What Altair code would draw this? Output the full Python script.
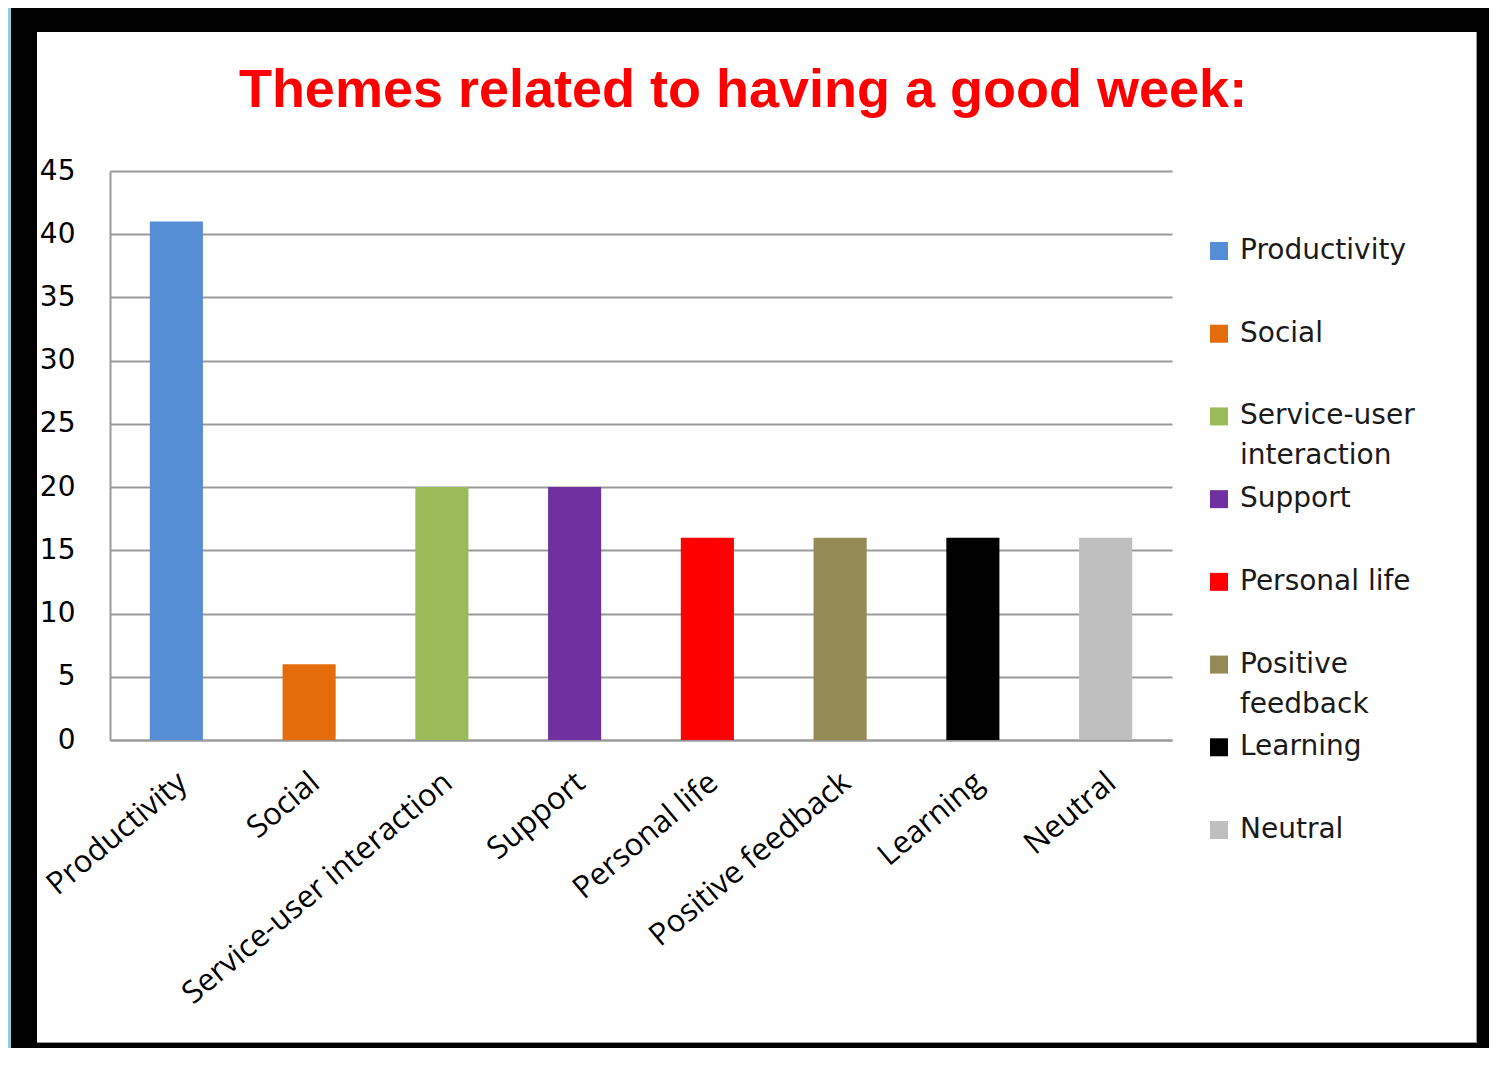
import altair as alt
import pandas as pd

# ---- data ----
categories = ["Productivity", "Social", "Service-user interaction", "Support",
              "Personal life", "Positive feedback", "Learning", "Neutral"]
values = [41, 6, 20, 20, 16, 16, 16, 16]
legend_labels = ["Productivity", "Social", "Service-user\ninteraction", "Support",
                 "Personal life", "Positive\nfeedback", "Learning", "Neutral"]
colors = ["#558ED5", "#E46C0A", "#9BBB59", "#7030A0",
          "#FF0000", "#948A54", "#000000", "#BFBFBF"]
y_ticks = [0, 5, 10, 15, 20, 25, 30, 35, 40, 45]
title_text = "Themes related to having a good week:"

df = pd.DataFrame({"cat": categories, "val": values, "lab": legend_labels})

PLOT_W, PLOT_H = 1062, 569
color_scale = alt.Scale(domain=categories, range=colors)

bars = alt.Chart(df).mark_bar().encode(
    x=alt.X("cat:N", sort=categories, title=None,
            scale=alt.Scale(paddingInner=0.6, paddingOuter=0.3),
            axis=alt.Axis(labelAngle=320, labelAlign="right", labelBaseline="top",
                          labelPadding=27, labelOffset=-3, ticks=False,
                          labelFont="Open Sans", labelFontSize=31, labelColor="#000000",
                          domainColor="#9a9a9a", domainWidth=2, grid=False,
                          labelLimit=600)),
    y=alt.Y("val:Q", title=None,
            scale=alt.Scale(domain=[0, 45], nice=False),
            axis=alt.Axis(values=y_ticks, ticks=False, tickSize=0, labelPadding=35,
                          labelFont="DejaVu Sans", labelFontSize=28, labelColor="#000000",
                          domainColor="#9a9a9a", domainWidth=2,
                          grid=True, gridColor="#9a9a9a", gridWidth=2)),
    color=alt.Color("cat:N", scale=color_scale, legend=None),
)

leg_y = alt.Y("cat:N", sort=categories, axis=None,
              scale=alt.Scale(range=[80, 659], padding=0))

leg_sq = alt.Chart(df).mark_square(size=324, opacity=1).encode(
    x=alt.value(1109),
    y=leg_y,
    color=alt.Color("cat:N", scale=color_scale, legend=None),
)

leg_txt = alt.Chart(df).mark_text(
    align="left", baseline="middle", font="DejaVu Sans", fontSize=28,
    color="#1a1a1a", lineBreak="\n", lineHeight=40
).encode(
    x=alt.value(1130),
    y=leg_y,
    text="lab:N",
)

title_df = pd.DataFrame({"t": [title_text]})
title = alt.Chart(title_df).mark_text(
    align="center", baseline="alphabetic", font="Liberation Sans",
    fontWeight="bold", fontSize=54, color="#FF0000"
).encode(x=alt.value(633), y=alt.value(-64), text="t:N")

one = pd.DataFrame({"a": [0]})


def strip(x1, x2, y1, y2, col):
    return alt.Chart(one).mark_rect(color=col, opacity=1).encode(
        x=alt.value(x1), x2=alt.value(x2), y=alt.value(y1), y2=alt.value(y2))


frame = [
    strip(-102, -99, -163, 877, "#92CDDC"),
    strip(-99, -73, -163, 877, "#000000"),
    strip(-99, 1379, -163, -139, "#000000"),
    strip(1366, 1367, -139, 872, "#9a9a9a"),
    strip(-73, 1367, 871, 872, "#9a9a9a"),
    strip(1367, 1379, -163, 877, "#000000"),
    strip(-99, 1379, 872, 877, "#000000"),
]

chart = alt.layer(*frame, bars, leg_sq, leg_txt, title).resolve_scale(
    y="independent"
).properties(
    width=PLOT_W, height=PLOT_H,
    autosize=alt.AutoSizeParams(type="none"),
    padding={"left": 102, "top": 163, "right": 317, "bottom": 308},
    background="white",
).configure_view(stroke=None)

chart.save("out.html", embed_options={"renderer": "svg", "actions": False})
